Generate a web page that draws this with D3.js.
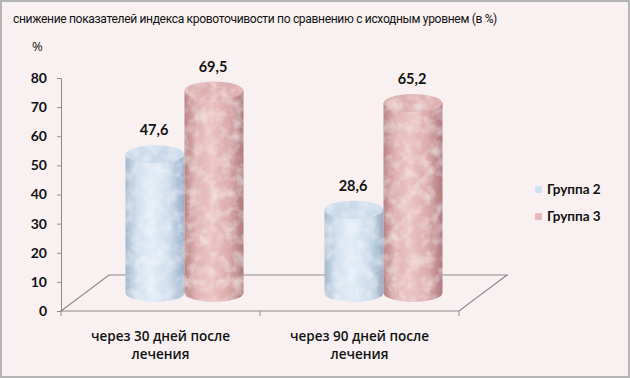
<!DOCTYPE html>
<html><head><meta charset="utf-8">
<script src="https://cdn.jsdelivr.net/npm/d3@7"></script>
<style>
html,body{margin:0;padding:0;background:#fff;}
svg{display:block;}
</style></head>
<body>
<script>
const title = "снижение показателей индекса кровоточивости по сравнению с исходным уровнем (в %)";
const categories = [["через 30 дней после","лечения"],["через 90 дней после","лечения"]];
const seriesNames = ["Группа 2","Группа 3"];
const group2 = [47.6, 28.6];
const group3 = [69.5, 65.2];
const valueLabels2 = ["47,6","28,6"];
const valueLabels3 = ["69,5","65,2"];
const yTicks = [0,10,20,30,40,50,60,70,80];

const W=630,H=378;
const svg=d3.select("body").append("svg").attr("width",W).attr("height",H);
const defs=svg.append("defs");

svg.append("rect").attr("x",1).attr("y",1).attr("width",W-2).attr("height",H-2)
  .attr("fill","#f9f1f1").attr("stroke","#b4b4b4").attr("stroke-width",2);

const font="'Open Sans', 'Noto Sans', sans-serif";
const fontB="Lato, 'Open Sans', sans-serif";
const fontT="Roboto, 'Open Sans', sans-serif";

const tt=svg.append("text").attr("x",13).attr("y",23).text(title)
  .attr("font-family",fontT).attr("font-size",15).attr("letter-spacing","-0.35px").attr("fill","#111");
const tl=tt.node().getComputedTextLength();
if(tl>0) tt.attr("font-size",Math.min(16.5,15*490/tl));
svg.append("text").attr("x",32).attr("y",51).text("%")
  .attr("font-family",font).attr("font-size",13).attr("fill","#111");

const y=d3.scaleLinear().domain([0,80]).range([311,78]);
const x=d3.scaleBand().domain(d3.range(categories.length)).range([61,459]);
const xs=d3.scaleBand().domain([0,1]).range([0,118]);
const DX=48, DY=-36;
const mdx=DX/2, mdy=DY/2;

const yAxis=d3.axisLeft(y).tickValues(yTicks).tickSize(4).tickPadding(10);
const ga=svg.append("g").attr("transform","translate(61,0)").call(yAxis);
ga.selectAll("path,line").attr("stroke","#8c8c8c");
ga.selectAll("text").attr("font-family",fontB).attr("font-size",14).attr("font-weight","bold").attr("fill","#111");

const x0=61,x1=459,yf=y(0);
svg.append("path").attr("d",`M${x0},${yf}L${x0+DX},${yf+DY}L${x1+DX},${yf+DY}L${x1},${yf}Z`)
  .attr("fill","none").attr("stroke","#8c8c8c").attr("stroke-width",1.2);
[x0, x0+x.bandwidth(), x1].forEach(t=>{
  svg.append("line").attr("x1",t).attr("x2",t).attr("y1",yf).attr("y2",yf+5).attr("stroke","#8c8c8c");
});

function grad(id,stops){
  const g=defs.append("linearGradient").attr("id",id).attr("x1","0").attr("x2","1").attr("y1","0").attr("y2","0");
  stops.forEach(s=>g.append("stop").attr("offset",s[0]).attr("stop-color",s[1]));
}
grad("gBlue",[[0,"#a3b9ce"],[0.2,"#d2e0ee"],[0.45,"#e3ecf6"],[0.75,"#cddcec"],[1,"#97aec5"]]);
grad("gPink",[[0,"#b98386"],[0.2,"#e0b2b3"],[0.45,"#ebc4c4"],[0.75,"#dcaaab"],[1,"#ae797c"]]);
const topCol=["#cbdaea","#dfb0b1"];

const f=defs.append("filter").attr("id","marble").attr("x","0").attr("y","0").attr("width","1").attr("height","1");
f.append("feTurbulence").attr("type","fractalNoise").attr("baseFrequency","0.09").attr("numOctaves",4).attr("seed",7).attr("result","noise");
f.append("feColorMatrix").attr("in","noise").attr("type","matrix")
  .attr("values","0 0 0 0 1  0 0 0 0 1  0 0 0 0 1  0 0 0 -0.9 0.55").attr("result","wn");
f.append("feComposite").attr("in","wn").attr("in2","SourceAlpha").attr("operator","in").attr("result","wm");
const fm=f.append("feMerge");
fm.append("feMergeNode").attr("in","SourceGraphic");
fm.append("feMergeNode").attr("in","wm");

const data=[];
categories.forEach((c,i)=>{
  data.push({ci:i,s:0,v:group2[i],lab:valueLabels2[i]});
  data.push({ci:i,s:1,v:group3[i],lab:valueLabels3[i]});
});
const rx=29.5, ry=9;
const gb=svg.append("g");
data.forEach(d=>{
  const cx=x(d.ci)+x.bandwidth()/2-59+xs(d.s)+xs.bandwidth()/2+mdx;
  const yb=y(0)+mdy, yt=y(d.v)+mdy;
  const g=gb.append("g").attr("filter","url(#marble)");
  g.append("path")
    .attr("d",`M${cx-rx},${yt}L${cx-rx},${yb}A${rx},${ry} 0 0 0 ${cx+rx},${yb}L${cx+rx},${yt}Z`)
    .attr("fill",d.s===0?"url(#gBlue)":"url(#gPink)");
  g.append("ellipse").attr("cx",cx).attr("cy",yt).attr("rx",rx).attr("ry",ry)
    .attr("fill",topCol[d.s]);
  svg.append("text").attr("x",cx-1).attr("y",yt-ry-10).text(d.lab)
    .attr("text-anchor","middle").attr("font-family",fontB).attr("font-size",14.5).attr("font-weight","bold").attr("fill","#111");
});

categories.forEach((c,i)=>{
  const t=svg.append("text").attr("text-anchor","middle").attr("font-family",font).attr("font-size",13.5).attr("font-weight",600).attr("fill","#111");
  c.forEach((line,k)=>t.append("tspan").attr("x",x(i)+x.bandwidth()/2).attr("y",341+k*18).text(line));
});

const lc=["#cfe1f2","#e7b8b8"];
seriesNames.forEach((n,i)=>{
  svg.append("rect").attr("x",535).attr("y",186+i*27).attr("width",7).attr("height",7).attr("fill",lc[i]);
  svg.append("text").attr("x",547).attr("y",194+i*27).text(n)
    .attr("font-family",fontB).attr("font-size",13.5).attr("font-weight","bold").attr("fill","#111");
});
</script>
</body></html>
